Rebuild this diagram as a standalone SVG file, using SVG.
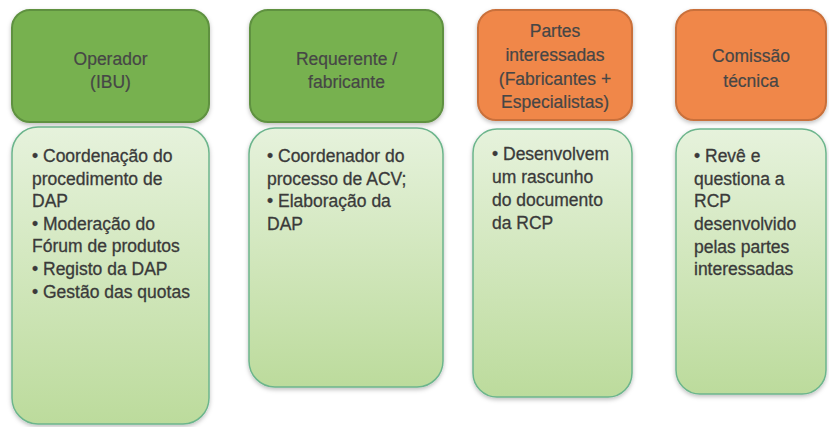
<svg xmlns="http://www.w3.org/2000/svg" width="829" height="427" viewBox="0 0 829 427">
<defs>
<linearGradient id="bodyGrad" x1="0" y1="0" x2="0" y2="1">
<stop offset="0" stop-color="#e6f2dc"/>
<stop offset="1" stop-color="#bcdb9c"/>
</linearGradient>
<filter id="shadow" x="-10%" y="-10%" width="120%" height="120%">
<feDropShadow dx="0" dy="2" stdDeviation="2" flood-color="#000" flood-opacity="0.25"/>
</filter>
<style>
.hg{fill:#77b150;stroke:#5e9140;stroke-width:2;filter:url(#shadow)}
.ho{fill:#f0874a;stroke:#c9703a;stroke-width:2;filter:url(#shadow)}
.body{fill:url(#bodyGrad);stroke:#6cb58c;stroke-width:1.5;filter:url(#shadow)}
.ht{font-family:"Liberation Sans",Arial,sans-serif;font-size:17.5px;fill:#464646;text-anchor:middle;stroke:#464646;stroke-width:0.2}
.bt{font-family:"Liberation Sans",Arial,sans-serif;font-size:17.5px;fill:#3a3a3a;stroke:#3a3a3a;stroke-width:0.3}
</style>
</defs>
<rect width="829" height="427" fill="#ffffff"/>
<g id="connectors"/>
<g id="header-operador">
<rect class="hg" x="12" y="10" width="197" height="112" rx="18"/>
<text class="ht" x="110.5" y="65">Operador</text>
<text class="ht" x="110.5" y="88">(IBU)</text>
</g>
<g id="header-requerente">
<rect class="hg" x="250" y="10" width="193" height="112" rx="18"/>
<text class="ht" x="346.5" y="65">Requerente /</text>
<text class="ht" x="346.5" y="88">fabricante</text>
</g>
<g id="header-partes">
<rect class="ho" x="478" y="10" width="154" height="110" rx="18"/>
<text class="ht" x="555" y="37">Partes</text>
<text class="ht" x="555" y="61">interessadas</text>
<text class="ht" x="555" y="85">(Fabricantes +</text>
<text class="ht" x="555" y="108">Especialistas)</text>
</g>
<g id="header-comissao">
<rect class="ho" x="676" y="10" width="150" height="110" rx="18"/>
<text class="ht" x="751" y="62">Comissão</text>
<text class="ht" x="751" y="87">técnica</text>
</g>
<g id="body-operador">
<rect class="body" x="12" y="127" width="197" height="297" rx="26"/>
<text class="bt" x="32" y="162">• Coordenação do</text>
<text class="bt" x="32" y="185">procedimento de</text>
<text class="bt" x="32" y="207">DAP</text>
<text class="bt" x="32" y="230">• Moderação do</text>
<text class="bt" x="32" y="252">Fórum de produtos</text>
<text class="bt" x="32" y="275">• Registo da DAP</text>
<text class="bt" x="32" y="298">• Gestão das quotas</text>
</g>
<g id="body-requerente">
<rect class="body" x="249" y="128" width="194" height="259" rx="26"/>
<text class="bt" x="267" y="162">• Coordenador do</text>
<text class="bt" x="267" y="185">processo de ACV;</text>
<text class="bt" x="267" y="207">• Elaboração da</text>
<text class="bt" x="267" y="230">DAP</text>
</g>
<g id="body-partes">
<rect class="body" x="473" y="129" width="159" height="268" rx="24"/>
<text class="bt" x="492" y="160">• Desenvolvem</text>
<text class="bt" x="492" y="183">um rascunho</text>
<text class="bt" x="492" y="206">do documento</text>
<text class="bt" x="492" y="229">da RCP</text>
</g>
<g id="body-comissao">
<rect class="body" x="676" y="129" width="150" height="265" rx="24"/>
<text class="bt" x="694" y="162">• Revê e</text>
<text class="bt" x="694" y="185">questiona a</text>
<text class="bt" x="694" y="207">RCP</text>
<text class="bt" x="694" y="230">desenvolvido</text>
<text class="bt" x="694" y="253">pelas partes</text>
<text class="bt" x="694" y="275">interessadas</text>
</g>
</svg>
